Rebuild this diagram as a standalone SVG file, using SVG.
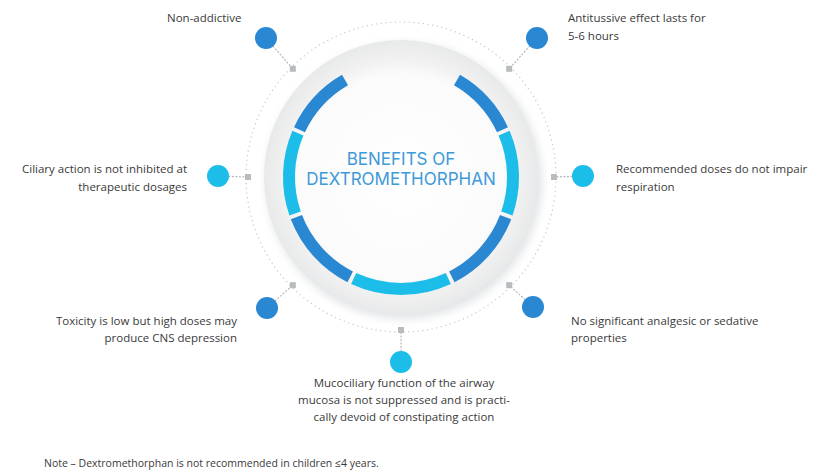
<svg xmlns="http://www.w3.org/2000/svg" width="825" height="471" viewBox="0 0 825 471">
<defs>
<radialGradient id="disk" cx="0.5" cy="0.5" r="0.5">
<stop offset="0" stop-color="#ffffff"/>
<stop offset="0.75" stop-color="#fbfbfb"/>
<stop offset="0.86" stop-color="#f1f1f1"/>
<stop offset="1" stop-color="#e8e9ea"/>
</radialGradient>
<filter id="sh" x="-20%" y="-20%" width="140%" height="140%">
<feGaussianBlur stdDeviation="4"/>
</filter>
<style>
.lbl{font-family:"Open Sans","Liberation Sans",sans-serif;font-size:11.5px;fill:#3a3a3a}
.title{font-family:"Inter","Open Sans","Liberation Sans",sans-serif;font-size:17px;fill:#3d9ad8;text-anchor:middle}
.dark{fill:#2a88d2}
.cyan{fill:#1dbde9}
.sq{fill:#b9bcbf}
.conn{stroke:#b5b8bb;stroke-width:1.2;stroke-dasharray:2 1.5;fill:none}
.arcD{fill:none;stroke:#2a88d2;stroke-width:12}
.arcL{fill:none;stroke:#1dbde9;stroke-width:12}
</style>
</defs>
<rect width="825" height="471" fill="#ffffff"/>

<g id="hub">
<circle cx="404" cy="181" r="138" fill="#e2e4e6" filter="url(#sh)"/>
<circle cx="401" cy="177" r="155" fill="none" stroke="#c4c7ca" stroke-width="1.2" stroke-dasharray="1.2 3.5"/>
<circle cx="401" cy="177" r="137" fill="url(#disk)"/>
<path class="arcD" d="M457.0,80.0 A112,112 0 0 1 502.5,129.7"/>
<path class="arcL" d="M504.1,133.2 A112,112 0 0 1 506.9,213.5"/>
<path class="arcD" d="M505.6,217.1 A112,112 0 0 1 451.8,276.8"/>
<path class="arcL" d="M448.3,278.5 A112,112 0 0 1 353.7,278.5"/>
<path class="arcD" d="M350.2,276.8 A112,112 0 0 1 296.4,217.1"/>
<path class="arcL" d="M295.1,213.5 A112,112 0 0 1 297.9,133.2"/>
<path class="arcD" d="M299.5,129.7 A112,112 0 0 1 345.0,80.0"/>
<text class="title" x="401" y="165">BENEFITS OF</text>
<text class="title" x="401" y="185">DEXTROMETHORPHAN</text>
</g>

<g id="connectors">
<line class="conn" x1="266" y1="38" x2="292.8" y2="68.8"/>
<line class="conn" x1="537" y1="38" x2="509.2" y2="68.8"/>
<line class="conn" x1="218" y1="176" x2="248" y2="177"/>
<line class="conn" x1="583" y1="176" x2="554" y2="177"/>
<line class="conn" x1="267" y1="308" x2="292.8" y2="285.2"/>
<line class="conn" x1="533" y1="307" x2="509.2" y2="285.2"/>
<line class="conn" x1="401" y1="362" x2="401" y2="330"/>
<rect class="sq" x="289.8" y="65.8" width="6" height="6"/>
<rect class="sq" x="506.2" y="65.8" width="6" height="6"/>
<rect class="sq" x="245" y="174" width="6" height="6"/>
<rect class="sq" x="551" y="174" width="6" height="6"/>
<rect class="sq" x="289.8" y="282.2" width="6" height="6"/>
<rect class="sq" x="506.2" y="282.2" width="6" height="6"/>
<rect class="sq" x="398" y="327" width="6" height="6"/>
</g>

<g id="n1">
<circle class="dark" cx="266" cy="38" r="11"/>
<text class="lbl" x="167" y="22">Non-addictive</text>
</g>
<g id="n2">
<circle class="dark" cx="537" cy="38" r="11"/>
<text class="lbl" x="568" y="22">Antitussive effect lasts for</text>
<text class="lbl" x="568" y="40">5-6 hours</text>
</g>
<g id="n3">
<circle class="cyan" cx="218" cy="176" r="11"/>
<text class="lbl" x="187" y="173" text-anchor="end">Ciliary action is not inhibited at</text>
<text class="lbl" x="187" y="191" text-anchor="end">therapeutic dosages</text>
</g>
<g id="n4">
<circle class="cyan" cx="583" cy="176" r="11"/>
<text class="lbl" x="616" y="173">Recommended doses do not impair</text>
<text class="lbl" x="616" y="191">respiration</text>
</g>
<g id="n5">
<circle class="dark" cx="267" cy="308" r="11"/>
<text class="lbl" x="237" y="325" text-anchor="end">Toxicity is low but high doses may</text>
<text class="lbl" x="237" y="342" text-anchor="end">produce CNS depression</text>
</g>
<g id="n6">
<circle class="dark" cx="533" cy="307" r="11"/>
<text class="lbl" x="571" y="325">No significant analgesic or sedative</text>
<text class="lbl" x="571" y="342">properties</text>
</g>
<g id="n7">
<circle class="cyan" cx="401" cy="362" r="11"/>
<text class="lbl" x="404" y="387" text-anchor="middle">Mucociliary function of the airway</text>
<text class="lbl" x="404" y="404" text-anchor="middle">mucosa is not suppressed and is practi-</text>
<text class="lbl" x="404" y="421" text-anchor="middle">cally devoid of constipating action</text>
</g>

<text x="44" y="467" font-family="Open Sans, Liberation Sans, sans-serif" font-size="10.5" fill="#3a3a3a">Note – Dextromethorphan is not recommended in children ≤4 years.</text>
</svg>
